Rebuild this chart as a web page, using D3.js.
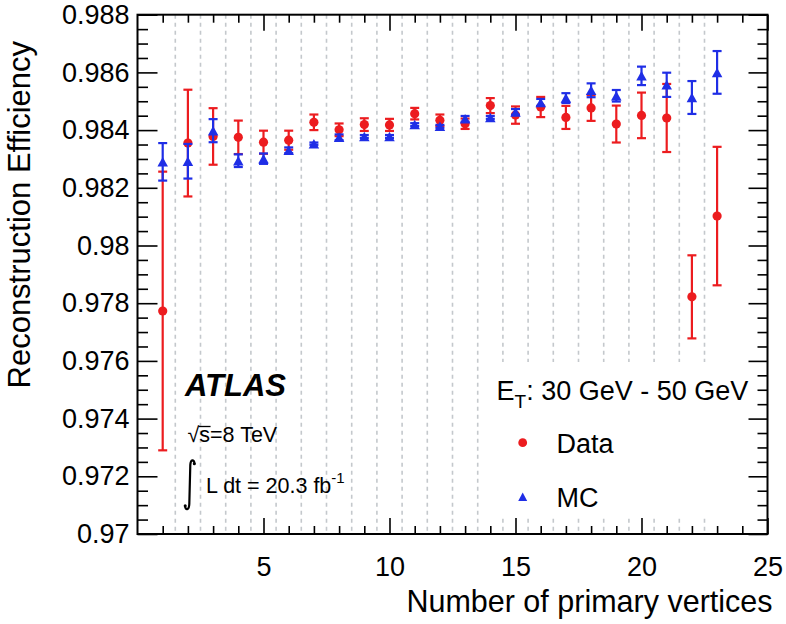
<!DOCTYPE html>
<html>
<head>
<meta charset="utf-8">
<script src="https://cdn.jsdelivr.net/npm/d3@7"></script>
<style>
  html, body { margin: 0; padding: 0; background: #fff; }
  svg { display: block; }
  text { font-family: "Liberation Sans", Arial, Helvetica, sans-serif; fill: #000; }
</style>
</head>
<body>
<svg id="chart" width="786" height="624"></svg>
<script>
// ---------------- data ----------------
const nVtx = [1,2,3,4,5,6,7,8,9,10,11,12,13,14,15,16,17,18,19,20,21,22,23];
const dataEff = [0.97773,0.98355,0.98378,0.98375,0.98358,0.98365,0.98427,0.98401,0.98419,0.98418,0.98457,0.98434,
                 0.98422,0.98485,0.98452,0.98480,0.98444,0.98477,0.98421,0.98451,0.98442,0.97822,0.98102];
const dataErr = [0.00483,0.00185,0.00098,0.00058,0.00040,0.00033,0.00027,0.00022,0.00022,0.00021,0.00020,0.00020,
                 0.00018,0.00026,0.00030,0.00035,0.00040,0.00045,0.00064,0.00079,0.00118,0.00144,0.00240];
const mcEff   = [0.98290,0.98292,0.98398,0.98294,0.98301,0.98330,0.98353,0.98375,0.98378,0.98378,0.98419,0.98413,
                 0.98439,0.98444,0.98463,0.98496,0.98511,0.98538,0.98519,0.98588,0.98557,0.98513,0.98600];
const mcErr   = [0.00065,0.00060,0.00040,0.00022,0.00018,0.00010,0.00004,0.00010,0.00005,0.00005,0.00005,0.00005,
                 0.00010,0.00005,0.00010,0.00012,0.00017,0.00024,0.00020,0.00032,0.00042,0.00057,0.00074];

const xTickValues = [5,10,15,20,25];
const xTickLabels = ["5","10","15","20","25"];
const yTickValues = [0.970,0.972,0.974,0.976,0.978,0.980,0.982,0.984,0.986,0.988];
const yTickLabels = ["0.97","0.972","0.974","0.976","0.978","0.98","0.982","0.984","0.986","0.988"];

const xTitle = "Number of primary vertices";
const yTitle = "Reconstruction Efficiency";
const legendHeader = "30 GeV - 50 GeV";
const seriesNames = ["Data","MC"];

// ---------------- layout ----------------
const RED = "#ec1c1f", BLUE = "#1f2ee6";
const L = 137.5, R = 767.5, T = 14.7, B = 534;
const svg = d3.select("#chart");

const x = d3.scaleLinear().domain([0,25]).range([L,R]);
const y = d3.scaleLinear().domain([0.970,0.988]).range([B,T]);

// dashed bin separators
const seps = nVtx.slice(0,-1).map(n => n + 0.5);
svg.append("g").selectAll("line").data(seps).join("line")
  .attr("x1", d => x(d)).attr("x2", d => x(d))
  .attr("y1", T).attr("y2", B)
  .attr("stroke", "#c4c8cc").attr("stroke-width", 1.6)
  .attr("stroke-dasharray", "4,4");

// legend box (white, hides grid)
svg.append("rect").attr("x", 489).attr("y", 362).attr("width", R - 489 - 1).attr("height", 156)
  .attr("fill", "#fff");

// axes: ticks inward on all 4 sides
const xMinor = d3.range(1,25).filter(v => v % 5 !== 0);
const yMinor = d3.range(0,37).map(i => 0.970 + i*0.0005).filter((v,i) => i % 4 !== 0);
const fmtY = d => yTickLabels[yTickValues.findIndex(v => Math.abs(v - d) < 1e-9)];
const fmtX = d => xTickLabels[xTickValues.indexOf(d)];

function styleAxis(g) {
  g.select(".domain").remove();
  g.selectAll(".tick line").attr("stroke", "#000").attr("stroke-width", 1.6);
  g.selectAll(".tick text").attr("font-size", 27).attr("fill", "#000")
    .style("font-family", '"Liberation Sans", Arial, Helvetica, sans-serif');
}

svg.append("g").attr("transform", `translate(0,${B})`)
  .call(d3.axisBottom(x).tickValues(xTickValues).tickSize(-16).tickPadding(23).tickFormat(fmtX)).call(styleAxis);
svg.append("g").attr("transform", `translate(0,${B})`)
  .call(d3.axisBottom(x).tickValues(xMinor).tickSize(-8).tickFormat("")).call(styleAxis);
svg.append("g").attr("transform", `translate(0,${T})`)
  .call(d3.axisTop(x).tickValues(xTickValues).tickSize(-16).tickFormat("")).call(styleAxis);
svg.append("g").attr("transform", `translate(0,${T})`)
  .call(d3.axisTop(x).tickValues(xMinor).tickSize(-8).tickFormat("")).call(styleAxis);

svg.append("g").attr("transform", `translate(${L},0)`)
  .call(d3.axisLeft(y).tickValues(yTickValues).tickSize(-20).tickPadding(8).tickFormat(fmtY)).call(styleAxis);
svg.append("g").attr("transform", `translate(${L},0)`)
  .call(d3.axisLeft(y).tickValues(yMinor).tickSize(-10.5).tickFormat("")).call(styleAxis);
svg.append("g").attr("transform", `translate(${R},0)`)
  .call(d3.axisRight(y).tickValues(yTickValues).tickSize(-19).tickFormat("")).call(styleAxis);
svg.append("g").attr("transform", `translate(${R},0)`)
  .call(d3.axisRight(y).tickValues(yMinor).tickSize(-10).tickFormat("")).call(styleAxis);

// frame
svg.append("rect").attr("x", L).attr("y", T).attr("width", R - L).attr("height", B - T)
  .attr("fill", "none").attr("stroke", "#000").attr("stroke-width", 2);

// axis titles
svg.append("text").attr("x", 772.5).attr("y", 612).attr("text-anchor", "end")
  .attr("font-size", 30.5).text(xTitle);
svg.append("text").attr("transform", "translate(30,41) rotate(-90)").attr("text-anchor", "end")
  .attr("font-size", 31).text(yTitle);

// ---------------- series ----------------
const capW = 4.5;
function drawErrors(vals, errs, color) {
  const g = svg.append("g").attr("stroke", color).attr("stroke-width", 2.2).attr("fill", "none");
  nVtx.forEach((n, i) => {
    const cx = x(n), y0 = y(vals[i] - errs[i]), y1 = y(vals[i] + errs[i]);
    g.append("line").attr("x1", cx).attr("x2", cx).attr("y1", y0).attr("y2", y1);
    g.append("line").attr("x1", cx - capW).attr("x2", cx + capW).attr("y1", y0).attr("y2", y0);
    g.append("line").attr("x1", cx - capW).attr("x2", cx + capW).attr("y1", y1).attr("y2", y1);
  });
}
const triPath = (cx, cy, w, h) => `M${cx},${cy - h/2}L${cx + w/2},${cy + h/2}L${cx - w/2},${cy + h/2}Z`;

drawErrors(dataEff, dataErr, RED);
svg.append("g").selectAll("circle").data(nVtx).join("circle")
  .attr("cx", d => x(d)).attr("cy", (d, i) => y(dataEff[i])).attr("r", 4.6).attr("fill", RED);

drawErrors(mcEff, mcErr, BLUE);
svg.append("g").selectAll("path").data(nVtx).join("path")
  .attr("d", (d, i) => triPath(x(d), y(mcEff[i]), 10.5, 9.5)).attr("fill", BLUE);

// ---------------- legend ----------------
const lg = svg.append("g");
const hdr = lg.append("text").attr("x", 496.5).attr("y", 400).attr("font-size", 27);
hdr.append("tspan").text("E");
hdr.append("tspan").attr("font-size", 19).attr("dy", 8).text("T");
hdr.append("tspan").attr("dy", -8).text(": " + legendHeader);

lg.append("circle").attr("cx", 522.7).attr("cy", 442.7).attr("r", 4.4).attr("fill", RED);
lg.append("text").attr("x", 556.5).attr("y", 453.3).attr("font-size", 27).text(seriesNames[0]);
lg.append("path").attr("d", triPath(522.7, 496.7, 9, 8.5)).attr("fill", BLUE);
lg.append("text").attr("x", 556.5).attr("y", 506.7).attr("font-size", 27).text(seriesNames[1]);

// ---------------- ATLAS label ----------------
svg.append("text").attr("x", 185).attr("y", 396).attr("font-size", 31)
  .attr("font-weight", "bold").attr("font-style", "italic").text("ATLAS");

const sq = svg.append("text").attr("x", 187.5).attr("y", 442.3).attr("font-size", 21.5);
sq.append("tspan").text("\u221A");
sq.append("tspan").text("s");
sq.append("tspan").text("=8 TeV");
// overbar of the square root
(function(){
  const n0 = sq.node();
  const sx1 = n0.getEndPositionOfChar(1).x;
  const rx = n0.getEndPositionOfChar(0).x;
  svg.append("line").attr("x1", rx - 0.8).attr("x2", sx1 + 0.5).attr("y1", 426.5).attr("y2", 426.5)
    .attr("stroke", "#000").attr("stroke-width", 1.3);
})();

// integral sign (thin, tall)
svg.append("path")
  .attr("d", "M194.5,463.5 C194,459 190.6,459 190.3,465 L189.3,504 C189,510.5 185.5,510.5 185,506")
  .attr("fill", "none").attr("stroke", "#000").attr("stroke-width", 2.2).attr("stroke-linecap", "round");
svg.append("circle").attr("cx", 194.3).attr("cy", 463.8).attr("r", 1.5).attr("fill", "#000");
svg.append("circle").attr("cx", 185.2).attr("cy", 505.8).attr("r", 1.5).attr("fill", "#000");

const lum = svg.append("text").attr("x", 206).attr("y", 493.3).attr("font-size", 21.5);
lum.append("tspan").text("L dt = 20.3 fb");
lum.append("tspan").attr("font-size", 15).attr("dy", -10).text("-1");
</script>
</body>
</html>
